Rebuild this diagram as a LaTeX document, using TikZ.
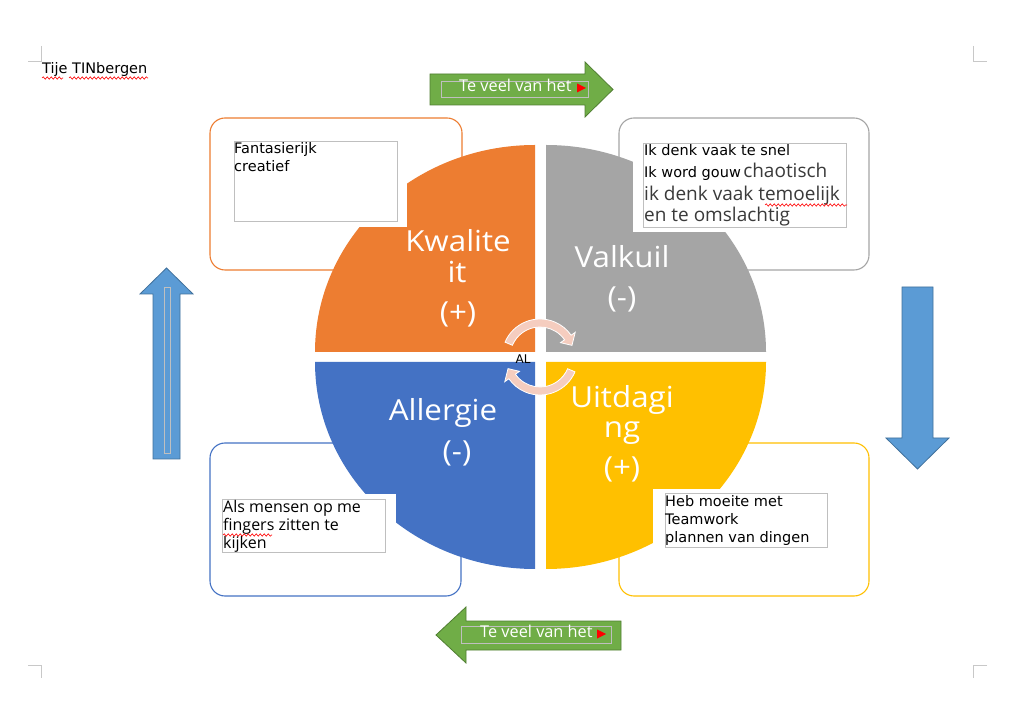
\documentclass[tikz,border=0pt]{standalone}
\usepackage{fontspec}
\setmainfont{DejaVu Sans}
\newfontfamily\osans{Open Sans}
\newfontfamily\qfont[FakeStretch=1.08]{Open Sans}
\usetikzlibrary{decorations.pathmorphing}
\definecolor{qorange}{HTML}{ED7D31}
\definecolor{qgray}{HTML}{A5A5A5}
\definecolor{qblue}{HTML}{4472C4}
\definecolor{qyellow}{HTML}{FFC000}
\definecolor{framegray}{HTML}{BFBFBF}
\definecolor{cornergray}{HTML}{C8C8C8}
\definecolor{agreen}{HTML}{70AD47}
\definecolor{agreendark}{HTML}{507E32}
\definecolor{ablue}{HTML}{5B9BD5}
\definecolor{abluedark}{HTML}{41719C}
\definecolor{cycfill}{HTML}{F5CDBF}
\definecolor{dgray}{HTML}{3A3A3A}
\begin{document}
\begin{tikzpicture}[x=1pt,y=1pt,
  rbox/.style={rounded corners=15pt, line width=1.1pt, fill=white},
  occl/.style={fill=white},
  tframe/.style={draw=framegray, line width=0.8pt},
  qlabel/.style={text=white, font=\qfont\fontsize{29}{32}\selectfont, anchor=base, inner sep=0pt},
  btxt/.style={anchor=base west, inner sep=0pt, font=\fontsize{14.5}{17}\selectfont},
  otxt/.style={anchor=base west, inner sep=0pt, font=\osans\fontsize{16}{18}\selectfont},
  gtxt/.style={anchor=base west, inner sep=0pt, text=white, font=\osans\fontsize{16.3}{18}\selectfont},
  cornermark/.style={draw=cornergray, line width=0.7pt},
  wavy/.style={draw=red, line width=0.6pt, decorate, decoration={snake, amplitude=1.2pt, segment length=4pt}},
  garrow/.style={fill=agreen, draw=agreendark, line width=0.8pt},
  barrow/.style={fill=ablue, draw=abluedark, line width=0.8pt},
  cyc/.style={fill=cycfill, draw=white, line width=0.8pt}]
\useasboundingbox (0,0) rectangle (1011,720);
\fill[white] (0,0) rectangle (1011,720);

% corner marks
\draw[cornermark] (41,674) -- (41,659) -- (28,659);
\draw[cornermark] (973,674) -- (973,659) -- (987,659);
\draw[cornermark] (28,55) -- (41,55) -- (41,42);
\draw[cornermark] (987,55) -- (973,55) -- (973,42);

% title
\node[btxt] (title) at (42,646) {Tije TINbergen};
\draw[wavy] (42,642) -- (63,642);
\draw[wavy] (69,642) -- (148,642);

% rounded boxes
\draw[rbox, draw=qorange] (210,602) rectangle (462,450);
\draw[rbox, draw=qgray] (619,602) rectangle (869,450);
\draw[rbox, draw=qblue] (210,277) rectangle (461,124);
\draw[rbox, draw=qyellow] (619,277) rectangle (869,124);

% quadrants
\fill[qorange] (535,368) -- ++(-220,0) arc[start angle=180, end angle=90, x radius=220, y radius=207] -- cycle;
\fill[qgray] (546,368) -- ++(220,0) arc[start angle=0, end angle=90, x radius=220, y radius=207] -- cycle;
\fill[qblue] (535,358) -- ++(-220,0) arc[start angle=180, end angle=270, x radius=220, y radius=207] -- cycle;
\fill[qyellow] (546,358) -- ++(220,0) arc[start angle=0, end angle=-90, x radius=220, y radius=207] -- cycle;

% occluding text boxes
\fill[occl] (224,585) rectangle (407,493);
\fill[occl] (633,583) rectangle (856,488);
\fill[occl] (212,226) rectangle (396,163);
\fill[occl] (653,231) rectangle (837,168);
\draw[tframe] (234,579) rectangle (397,499);
\draw[tframe] (643,577) rectangle (846,493);
\draw[tframe] (222,221) rectangle (385,168);
\draw[tframe] (665,227) rectangle (827,173);

% box texts
\node[btxt] (tl1) at (234,566) {Fantasierijk};
\node[btxt] (tl2) at (234,548) {creatief};
\node[btxt] (tr1) at (644,564) {Ik denk vaak te snel};
\node[btxt] (tr2) at (644,542) {Ik word gouw\,{\osans\color{dgray}\fontsize{19}{22}\selectfont chaotisch}};
\node[otxt, text=dgray, font=\osans\fontsize{19}{22}\selectfont] (tr3) at (644,519) {ik denk vaak temoelijk};
\node[otxt, text=dgray, font=\osans\fontsize{19}{22}\selectfont] (tr4) at (644,498) {en te omslachtig};
\draw[wavy] (765,515) -- (847,515);
\node[otxt] (bl1) at (223,207) {Als mensen op me};
\node[otxt] (bl2) at (223,189) {fingers zitten te};
\node[otxt] (bl3) at (223,171) {kijken};
\draw[wavy] (223,185) -- (272,185);
\node[btxt] (br1) at (665,213) {Heb moeite met};
\node[btxt] (br2) at (665,195) {Teamwork};
\node[btxt] (br3) at (665,177) {plannen van dingen};

% quadrant labels
\node[qlabel] (kw1) at (458,468) {Kwalite};
\node[qlabel] (kw2) at (457,437) {it};
\node[qlabel] (kw3) at (458,397) {(+)};
\node[qlabel] (va1) at (622,452) {Valkuil};
\node[qlabel] (va2) at (622,412) {(-)};
\node[qlabel] (al1) at (443,299) {Allergie};
\node[qlabel] (al2) at (457,258) {(-)};
\node[qlabel] (ui1) at (622,312) {Uitdagi};
\node[qlabel] (ui2) at (622,282) {ng};
\node[qlabel] (ui3) at (622,242) {(+)};

% centre cycle arrows
\begin{scope}[shift={(540,363)}]
\draw[cyc] (157:38) arc[start angle=157, end angle=35, radius=38] -- (35:43) -- (20:34) -- (35:25) -- (35:30) arc[start angle=35, end angle=157, radius=30] -- cycle;
\draw[cyc] (-23:38) arc[start angle=-23, end angle=-145, radius=38] -- (-145:43) -- (-160:34) -- (-145:25) -- (-145:30) arc[start angle=-145, end angle=-23, radius=30] -- cycle;
\end{scope}
\node[inner sep=0pt, font=\fontsize{12}{14}\selectfont] (al) at (523,361) {AL};

% green arrows
\draw[garrow] (430,615) -- (585,615) -- (585,603) -- (613,630.5) -- (585,658) -- (585,646) -- (430,646) -- cycle;
\draw[tframe] (441,639) rectangle (588,623);
\node[gtxt] (gt) at (459,628) {Te veel van het};
\fill[red] (577,636.5) -- (586,632) -- (577,627.5) -- cycle;

\draw[garrow] (621,70) -- (466,70) -- (466,57) -- (436,85) -- (466,113) -- (466,99) -- (621,99) -- cycle;
\draw[tframe] (461,94) rectangle (611,77);
\node[gtxt] (gb) at (480,83) {Te veel van het};
\fill[red] (597,90.5) -- (606,86) -- (597,81.5) -- cycle;

% blue arrows
\draw[barrow] (153,261) -- (153,426) -- (140,426) -- (166.5,452) -- (193,426) -- (180,426) -- (180,261) -- cycle;
\draw[tframe] (164,267) rectangle (170,433);
\draw[barrow] (902,433) -- (933,433) -- (933,282) -- (949,282) -- (917.5,251) -- (886,282) -- (902,282) -- cycle;
\end{tikzpicture}
\end{document}
